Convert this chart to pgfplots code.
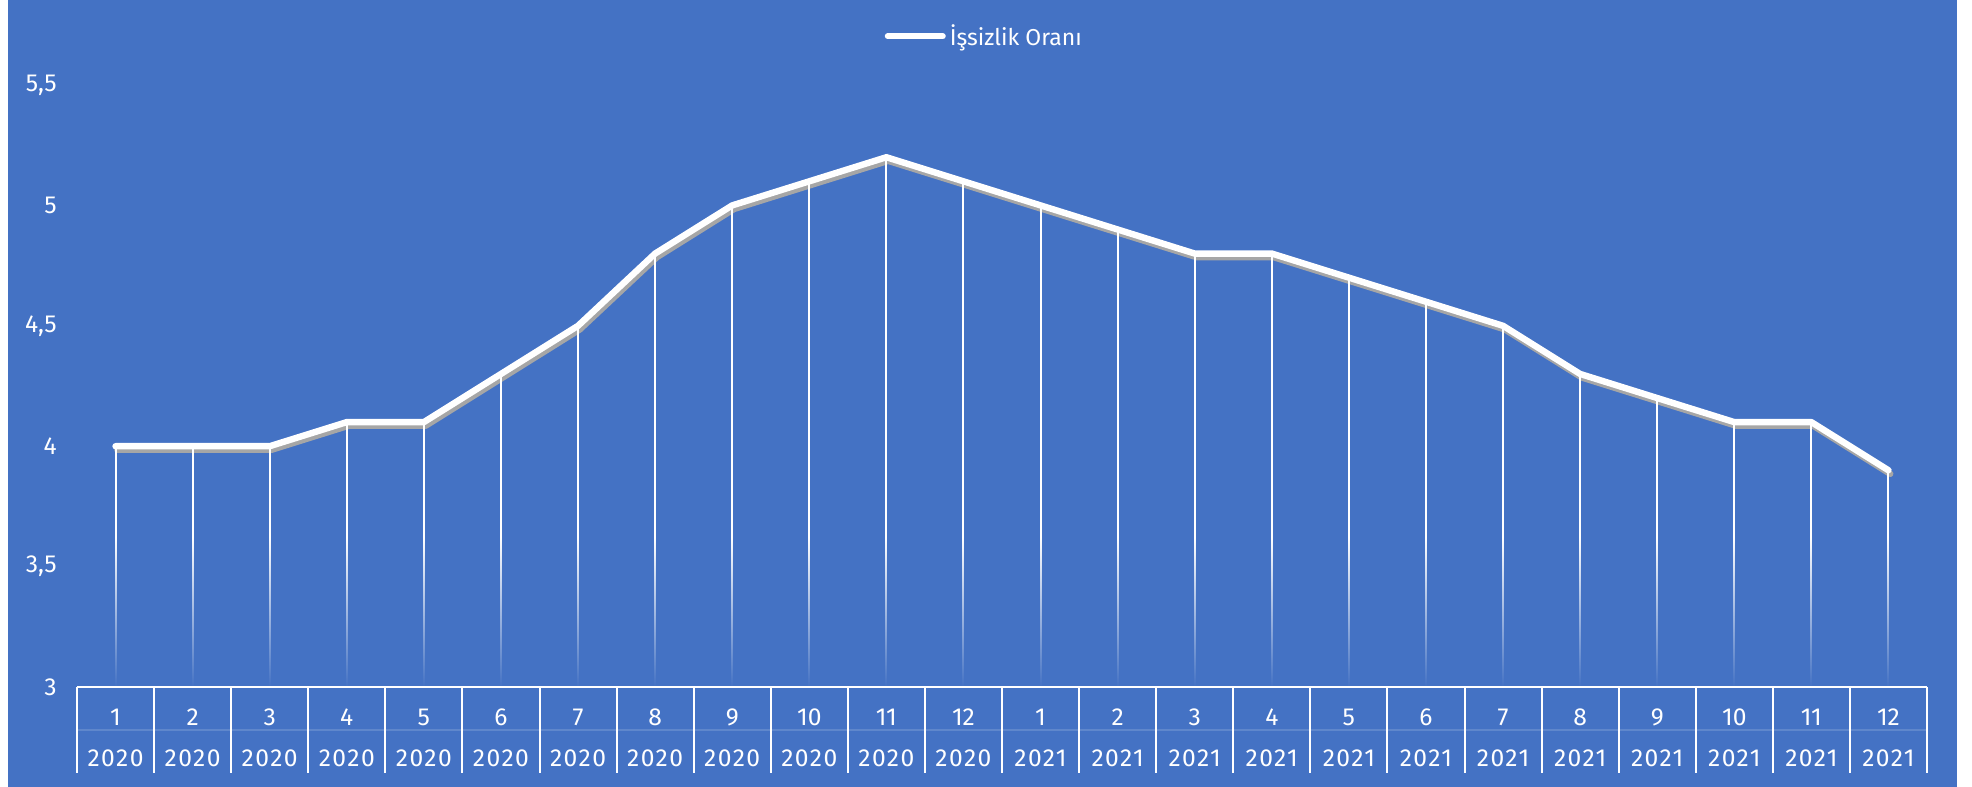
\documentclass[border=0pt]{standalone}
\usepackage{fontspec}
\setmainfont{Fira Sans}
\newfontfamily\yearfont{Fira Sans}[LetterSpace=6]
\usepackage{pgfplots}
\pgfplotsset{compat=1.18}
\usepackage{pgfplotstable}
\usetikzlibrary{fadings}
\definecolor{bg}{HTML}{4472C4}
\definecolor{shadowgray}{HTML}{A6A6A6}
\tikzfading[name=fadeup, top color=transparent!100, bottom color=transparent!0]
\pgfplotstableread{
x y
0 4.0
1 4.0
2 4.0
3 4.1
4 4.1
5 4.3
6 4.5
7 4.8
8 5.0
9 5.1
10 5.2
11 5.1
12 5.0
13 4.9
14 4.8
15 4.8
16 4.7
17 4.6
18 4.5
19 4.3
20 4.2
21 4.1
22 4.1
23 3.9
}\datatable
\newcommand{\yA}{{\yearfont 2020}}
\newcommand{\yB}{{\yearfont 2021}}
\begin{document}
\begin{tikzpicture}
\fill[white] (0,0) rectangle (986pt,393.5pt);
\fill[bg] (4pt,0) rectangle (978.5pt,393.5pt);
\begin{axis}[
  scale only axis, width=925pt, height=301pt,
  at={(38.5pt,50pt)}, anchor=south west,
  xmin=-0.5, xmax=23.5, ymin=3, ymax=5.5,
  clip=false, no marks,
  ytick={3,3.5,4,4.5,5,5.5},
  /pgf/number format/use comma,
  /pgf/number format/1000 sep={},
  /pgf/number format/assume math mode=true,
  axis x line*=bottom, axis y line*=left,
  x axis line style={white, line width=1pt},
  y axis line style={draw=none},
  ytick style={draw=none},
  xtick style={draw=none},
  yticklabel style={font=\fontsize{12.3}{14}\selectfont, text=white, anchor=east, inner sep=0pt, xshift=-10pt},
  xtick={0,...,23},
  xticklabels={{1\\\yA},{2\\\yA},{3\\\yA},{4\\\yA},{5\\\yA},{6\\\yA},{7\\\yA},{8\\\yA},{9\\\yA},{10\\\yA},{11\\\yA},{12\\\yA},
               {1\\\yB},{2\\\yB},{3\\\yB},{4\\\yB},{5\\\yB},{6\\\yB},{7\\\yB},{8\\\yB},{9\\\yB},{10\\\yB},{11\\\yB},{12\\\yB}},
  xticklabel style={font=\fontsize{12.3}{20.5}\selectfont, text=white, align=center, anchor=north, inner sep=0pt, yshift=-10.75pt},
  legend style={at={(0.491,1.081)}, anchor=center, draw=none, fill=none, text=white, font=\fontsize{11.5}{13}\selectfont},
]
\addplot[shadowgray, line width=3.2pt, line join=round, line cap=round, xshift=0.9pt, yshift=-1.8pt, forget plot] table[x=x,y=y]{\datatable};
\addplot[white, line width=1pt, unbounded coords=jump, forget plot] coordinates {
(0,4.0) (0,3) (0,nan)
(1,4.0) (1,3) (1,nan)
(2,4.0) (2,3) (2,nan)
(3,4.1) (3,3) (3,nan)
(4,4.1) (4,3) (4,nan)
(5,4.3) (5,3) (5,nan)
(6,4.5) (6,3) (6,nan)
(7,4.8) (7,3) (7,nan)
(8,5.0) (8,3) (8,nan)
(9,5.1) (9,3) (9,nan)
(10,5.2) (10,3) (10,nan)
(11,5.1) (11,3) (11,nan)
(12,5.0) (12,3) (12,nan)
(13,4.9) (13,3) (13,nan)
(14,4.8) (14,3) (14,nan)
(15,4.8) (15,3) (15,nan)
(16,4.7) (16,3) (16,nan)
(17,4.6) (17,3) (17,nan)
(18,4.5) (18,3) (18,nan)
(19,4.3) (19,3) (19,nan)
(20,4.2) (20,3) (20,nan)
(21,4.1) (21,3) (21,nan)
(22,4.1) (22,3) (22,nan)
(23,3.9) (23,3)
};
\fill[bg, path fading=fadeup] (axis cs:-0.5,3) rectangle (axis cs:23.5,3.62);
\addplot[white, line width=3.2pt, line join=round, line cap=round,
  legend image code/.code={\draw[white, line width=3pt, line cap=round] (0pt,0pt) -- (27.5pt,0pt);}] table[x=x,y=y]{\datatable};
\addlegendentry{İşsizlik Oranı}
\pgfplotsinvokeforeach{-0.5,0.5,...,23.5}{
  \draw[white, line width=1pt] (axis cs:#1,3) -- ([yshift=-43pt]axis cs:#1,3);
}
\draw[white, opacity=0.15, line width=0.6pt] ([yshift=-21.5pt]axis cs:-0.5,3) -- ([yshift=-21.5pt]axis cs:23.5,3);
\draw[white, line width=1pt] (axis cs:-0.5,3) -- (axis cs:23.5,3);
\end{axis}
\end{tikzpicture}
\end{document}
